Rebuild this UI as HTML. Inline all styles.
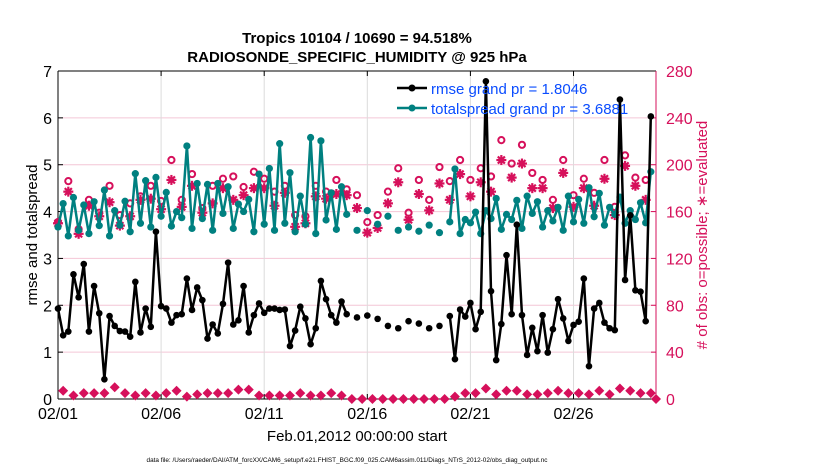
<!DOCTYPE html>
<html><head><meta charset="utf-8"><style>
body{margin:0;background:#fff;}
svg{display:block;font-family:"Liberation Sans",sans-serif;}
</style></head><body>
<svg id="chart" width="830" height="470" viewBox="0 0 830 470">
<rect width="830" height="470" fill="#fff"/>
<g id="grid"></g>
<g id="axes"></g>
<g id="series"></g>
<text x="357" y="43" text-anchor="middle" font-size="15" font-weight="bold">Tropics 10104 / 10690 = 94.518%</text>
<text x="357" y="62" text-anchor="middle" font-size="15" font-weight="bold">RADIOSONDE_SPECIFIC_HUMIDITY @ 925 hPa</text>
<text x="357" y="441" text-anchor="middle" font-size="15">Feb.01,2012 00:00:00 start</text>
<text x="347" y="462" text-anchor="middle" font-size="6.4">data file: /Users/raeder/DAI/ATM_forcXX/CAM6_setup/f.e21.FHIST_BGC.f09_025.CAM6assim.011/Diags_NTrS_2012-02/obs_diag_output.nc</text>
<text transform="translate(37,235) rotate(-90)" text-anchor="middle" font-size="15">rmse and totalspread</text>
<text transform="translate(707,235) rotate(-90)" text-anchor="middle" font-size="15" fill="#d6105b"># of obs: o=possible; ∗=evaluated</text>
<g id="legend">
<line x1="397" y1="88" x2="427" y2="88" stroke="#000" stroke-width="2.5"/>
<circle cx="412" cy="88" r="3.5" fill="#000"/>
<text x="431" y="94" font-size="15" fill="#0a4cff">rmse grand pr = 1.8046</text>
<line x1="397" y1="108" x2="427" y2="108" stroke="#008080" stroke-width="2.5"/>
<circle cx="412" cy="108" r="3.5" fill="#008080"/>
<text x="431" y="114" font-size="15" fill="#0a4cff">totalspread grand pr = 3.6881</text>
</g>
</svg>
<script>
const rmse = [1.93,1.36,1.44,2.66,2.17,2.88,1.44,2.41,1.83,0.42,1.77,1.56,1.45,1.44,1.33,2.50,1.42,1.93,1.54,3.57,
1.98,1.93,1.63,1.79,1.81,2.57,1.90,2.38,2.11,1.29,1.59,1.40,2.03,2.91,1.59,1.68,2.41,1.42,1.79,2.04,
1.84,1.93,1.93,1.90,1.91,1.13,1.46,1.97,1.72,1.17,1.51,2.52,2.13,1.79,1.63,2.08,1.81,null,1.74,null,
1.78,null,1.71,null,1.56,null,1.51,null,1.66,null,1.61,null,1.51,null,1.56,null,1.77,0.85,1.91,1.76,
2.05,1.49,1.86,6.78,2.30,0.83,1.60,3.07,1.81,3.72,1.79,0.94,1.52,1.02,1.79,0.99,1.49,2.13,1.72,1.24,
1.58,1.65,2.57,0.70,1.93,2.05,1.63,1.51,1.47,6.39,2.54,3.92,2.32,2.29,1.66,6.03];
const spread = [3.67,4.17,3.48,4.30,3.60,4.14,3.53,4.21,3.70,4.46,3.48,4.02,3.71,4.22,3.57,4.81,3.75,4.66,3.67,4.73,
3.90,4.41,3.69,4.00,3.87,5.40,3.64,4.60,3.85,4.58,3.60,4.60,3.96,4.53,3.64,4.16,4.00,4.26,3.57,4.80,
3.73,4.92,3.60,5.45,3.75,4.83,3.57,4.33,3.73,5.58,3.53,5.51,3.82,4.40,3.62,4.53,3.94,null,3.60,null,
4.02,null,3.73,null,3.90,null,3.60,null,3.67,null,3.58,null,3.71,null,3.55,null,3.78,4.91,3.53,3.83,
3.76,3.99,3.53,4.02,3.85,4.28,3.62,3.94,3.83,4.24,3.64,4.33,3.96,4.21,3.67,4.02,3.80,4.09,3.60,4.33,
3.78,4.26,3.75,4.51,3.89,4.39,3.71,4.09,3.94,4.31,3.75,4.02,3.83,4.19,3.76,4.85];
// obs counts at even time indices 0,2,...,114
const possible = [151,186,145,170,159,182,157,167,173,182,169,204,170,192,163,182,188,190,181,194,
188,177,182,157,156,182,177,187,179,174,151,157,177,197,159,187,170,198,186,204,
187,197,190,221,201,217,193,187,170,204,174,188,176,204,164,208,189,187];
const evaluated = [150,177,141,165,156,168,148,156,170,171,162,187,164,182,159,167,180,170,174,180,
180,165,176,147,150,173,171,175,174,163,142,146,167,185,153,175,161,184,170,192,
173,185,177,204,189,201,180,180,163,193,164,180,165,188,157,199,182,170];
// small counts at odd indices 1..115 then final point
const lowCounts = [7,3,5,5,5,10,5,3,5,3,5,7,2,4,5,5,5,8,8,3,
3,3,3,5,3,3,5,3,0,0,0,0,0,0,0,0,0,0,2,5,
5,9,4,7,7,4,4,5,7,5,5,4,7,4,9,7,5,5,0];
const xTickLabels = ["02/01","02/06","02/11","02/16","02/21","02/26"];
const xTickDays = [0,5,10,15,20,25];
const yTicks = [0,1,2,3,4,5,6,7];
const y2Ticks = [0,40,80,120,160,200,240,280];

const NS="http://www.w3.org/2000/svg";
const X0=58,X1=656,Y0=399,Y1=71,DAYS=29;
const xDay=d=>X0+d*(X1-X0)/DAYS;
const xIdx=i=>xDay(i/4);
const yL=v=>Y0-v*(Y0-Y1)/7;
const yR=v=>Y0-v*(Y0-Y1)/280;
function mk(tag,attrs,parent){const e=document.createElementNS(NS,tag);for(const k in attrs)e.setAttribute(k,attrs[k]);parent.appendChild(e);return e;}
const grid=document.getElementById('grid'),axes=document.getElementById('axes'),ser=document.getElementById('series');
const RED="#d6105b",TEAL="#008080";

yTicks.forEach(v=>{ if(v>0&&v<7){const l=mk('line',{x1:X0,x2:X1,y1:yL(v),y2:yL(v),stroke:"#f4c6d6","stroke-width":1},grid);

}
 const t=mk('text',{x:X0-6,y:yL(v)+6,"text-anchor":"end","font-size":16},axes);t.textContent=v;
 
 
 mk('line',{x1:X0,x2:X0+5,y1:yL(v),y2:yL(v),stroke:"#000"},axes);
});
y2Ticks.forEach(v=>{const t=mk('text',{x:X1+10,y:yR(v)+6,"font-size":16,fill:RED},axes);t.textContent=v;
 
 
 mk('line',{x1:X1-5,x2:X1,y1:yR(v),y2:yR(v),stroke:RED},axes);
});
xTickDays.forEach((d,k)=>{ if(d>0){const l=mk('line',{x1:xDay(d),x2:xDay(d),y1:Y1,y2:Y0,stroke:"#dcdcdc","stroke-width":1},grid);

}
 mk('line',{x1:xDay(d),x2:xDay(d),y1:Y0,y2:Y0-5,stroke:"#000"},axes);
 mk('line',{x1:xDay(d),x2:xDay(d),y1:Y1,y2:Y1+5,stroke:"#000"},axes);
 const t=mk('text',{x:xDay(d),y:Y0+20,"text-anchor":"middle","font-size":16},axes);t.textContent=xTickLabels[k];
 
 
});
mk('line',{x1:X0,x2:X0,y1:Y1,y2:Y0,stroke:"#000"},axes);
mk('line',{x1:X0,x2:X1,y1:Y0,y2:Y0,stroke:"#000"},axes);
mk('line',{x1:X0,x2:X1,y1:Y1,y2:Y1,stroke:"#000"},axes);
mk('line',{x1:X1,x2:X1,y1:Y1,y2:Y0,stroke:RED},axes);

possible.forEach((v,k)=>{const c=mk('circle',{cx:xIdx(2*k),cy:yR(v),r:3.1,fill:"none",stroke:RED,"stroke-width":2},ser);

});
evaluated.forEach((v,k)=>{const x=xIdx(2*k),y=yR(v);const g=mk('g',{},ser);


 for(let a=0;a<4;a++){const an=a*Math.PI/4;mk('line',{x1:x-5*Math.cos(an),y1:y-5*Math.sin(an),x2:x+5*Math.cos(an),y2:y+5*Math.sin(an),stroke:RED,"stroke-width":2.2},g);}
 mk('circle',{cx:x,cy:y,r:3,fill:RED},g);
});
lowCounts.forEach((v,k)=>{const i=k<58?2*k+1:116;const x=xIdx(i),y=yR(v);
 const p=mk('path',{d:`M${x},${y-5}L${x+5},${y}L${x},${y+5}L${x-5},${y}Z`,fill:RED},ser);
 
 });

function line(data,color,name,r){
 let d="",pen=false;
 data.forEach((v,i)=>{ if(v===null){pen=false;return;}
  d+=(pen?"L":"M")+xIdx(i).toFixed(1)+","+yL(v).toFixed(1);pen=true;});
 const p=mk('path',{d:d,fill:"none",stroke:color,"stroke-width":2.5,"stroke-linejoin":"round"},ser);
 
 
 data.forEach((v,i)=>{if(v===null)return;const c=mk('circle',{cx:xIdx(i),cy:yL(v),r:r,fill:color},ser);
  
  });
}
line(spread,TEAL,'totalspread',3.6);
line(rmse,"#000",'rmse',3.3);
</script>
</body></html>
